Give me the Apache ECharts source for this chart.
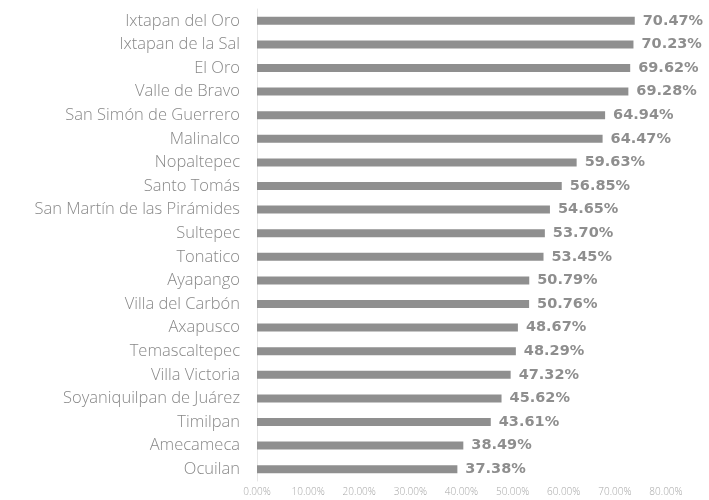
<!DOCTYPE html>
<html>
<head>
<meta charset="utf-8">
<script src="https://cdn.jsdelivr.net/npm/echarts@6/dist/echarts.min.js"></script>
<style>
  html, body { margin: 0; padding: 0; background: #fff; }
  #chart { width: 709px; height: 500px; }
</style>
</head>
<body>
<div id="chart"></div>
<script>
// municipios, de mayor a menor
const municipios = [
  'Ixtapan del Oro', 'Ixtapan de la Sal', 'El Oro', 'Valle de Bravo',
  'San Simón de Guerrero', 'Malinalco', 'Nopaltepec', 'Santo Tomás',
  'San Martín de las Pirámides', 'Sultepec', 'Tonatico', 'Ayapango',
  'Villa del Carbón', 'Axapusco', 'Temascaltepec', 'Villa Victoria',
  'Soyaniquilpan de Juárez', 'Timilpan', 'Amecameca', 'Ocuilan'
];
const porcentajes = [
  70.47, 70.23, 69.62, 69.28, 64.94, 64.47, 59.63, 56.85, 54.65, 53.70,
  53.45, 50.79, 50.76, 48.67, 48.29, 47.32, 45.62, 43.61, 38.49, 37.38
];
const ticksX = [0, 10, 20, 30, 40, 50, 60, 70, 80];

const chart = echarts.init(document.getElementById('chart'));

chart.setOption({
  animation: false,
  grid: { left: 257, right: 43, top: 9, bottom: 19 },
  xAxis: [
    {
      // eje visible con las etiquetas
      type: 'value', min: ticksX[0], max: ticksX[ticksX.length - 1], interval: 10,
      axisLine: { show: false }, axisTick: { show: false }, splitLine: { show: false },
      axisLabel: {
        color: '#a8a8a8', fontSize: 10, fontFamily: 'Open Sans', fontWeight: 300, margin: 6,
        formatter: v => v.toFixed(2) + '%'
      }
    },
    {
      // escala de las barras (en el original no coincide con las etiquetas)
      type: 'value', min: 0, max: 76.3, show: false
    }
  ],
  yAxis: {
    type: 'category', inverse: true, data: municipios,
    axisLine: { show: true, lineStyle: { color: '#e6e6e6', width: 1 } },
    axisTick: { show: false },
    axisLabel: { color: '#888888', fontSize: 16.5, fontFamily: 'Open Sans', fontWeight: 300, margin: 17 }
  },
  series: [{
    type: 'bar', xAxisIndex: 1, data: porcentajes, barWidth: 8,
    itemStyle: { color: '#8f8f8f' },
    label: {
      show: true, position: 'right', distance: 8,
      color: '#8e8e8e', fontSize: 14.5, fontWeight: 'bold', fontFamily: 'DejaVu Sans',
      formatter: p => p.value.toFixed(2) + '%'
    }
  }]
});
</script>
</body>
</html>
